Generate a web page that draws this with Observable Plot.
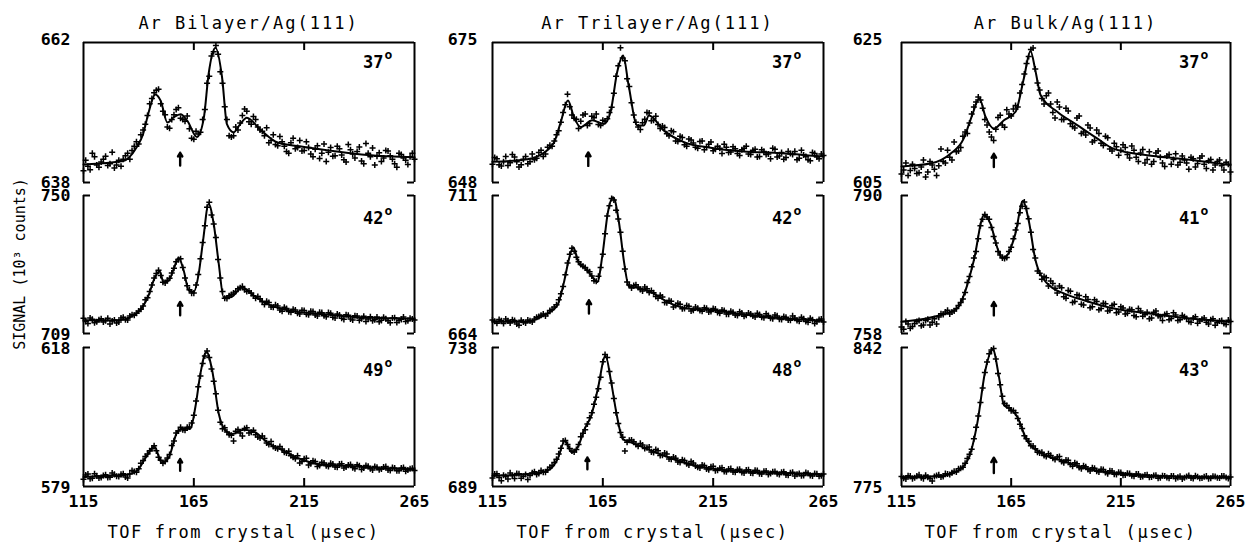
<!DOCTYPE html>
<html><head><meta charset="utf-8">
<script src="https://cdn.jsdelivr.net/npm/d3@7"></script>
<script src="https://cdn.jsdelivr.net/npm/@observablehq/plot@0.6"></script>
<style>
body{margin:0;background:#fff;}
#chart{position:relative;width:1249px;height:548px;overflow:hidden;font-family:"DejaVu Sans Mono",monospace;color:#000;background:#fff;}
.t{position:absolute;white-space:nowrap;line-height:1;}
.title{font-size:17px;letter-spacing:2px;transform:translateX(-50%);}
.xlab{font-size:17px;letter-spacing:1.6px;transform:translateX(-50%);}
.ylab{font-size:15px;transform:translate(-50%,-50%) rotate(-90deg);}
</style></head><body><div id="chart"></div>
<script>
// ---------- data ----------
const colTitles = ["Ar Bilayer/Ag(111)", "Ar Trilayer/Ag(111)", "Ar Bulk/Ag(111)"];
const xTicks = [115, 165, 215, 265];
const xLabel = "TOF from crystal (\u03bcsec)";
const yLabel = "SIGNAL (10\u00b3 counts)";

// TOF channels (µsec) of the plotted measurements: odd and even channels
const tofOdd = [115,117,119,121,123,125,127,129,131,133,135,137,139,141,143,145,147,149,151,153,155,157,159,161,163,165,167,169,171,173,175,177,179,181,183,185,187,189,191,193,195,197,199,201,203,205,207,209,211,213,215,217,219,221,223,225,227,229,231,233,235,237,239,241,243,245,247,249,251,253,255,257,259,261,263,265];
const tofEven = [116,118,120,122,124,126,128,130,132,134,136,138,140,142,144,146,148,150,152,154,156,158,160,162,164,166,168,170,172,174,176,178,180,182,184,186,188,190,192,194,196,198,200,202,204,206,208,210,212,214,216,218,220,222,224,226,228,230,232,234,236,238,240,242,244,246,248,250,252,254,256,258,260,262,264];

// y ranges (10^3 counts), per column, rows top->bottom
const rangesBi = [[638,662],[709,750],[579,618]];
const rangesTri = [[648,675],[664,711],[689,738]];
const rangesBulk = [[605,625],[758,790],[775,842]];

const anglesBi = ["37","42","49"];
const anglesTri = ["37","42","48"];
const anglesBulk = ["37","41","43"];

// arrow: [tof, y from, y to]
const arrowsBi = [[158.8,640.9,643.1],[158.8,714.4,718.4],[158.8,583.4,586.7]];
const arrowsTri = [[158.4,651.2,653.8],[158.7,670.8,675.3],[158.0,695.1,699.2]];
const arrowsBulk = [[157.1,607.2,609.1],[157.1,762.2,765.3],[157.1,781.5,788.9]];

// measured points, odd channels
const obsBi37 = [640.0,640.8,643.0,641.0,641.5,642.5,641.2,640.5,641.8,642.0,643.0,643.5,645.0,646.2,648.0,651.5,653.4,654.0,650.2,647.5,648.8,650.5,649.0,648.5,647.2,645.4,646.3,648.8,655.0,659.7,661.5,657.0,651.0,646.0,646.0,647.0,649.5,650.2,648.0,648.8,647.0,646.0,644.8,646.2,644.3,645.0,643.3,644.8,643.8,645.2,643.5,644.0,642.4,644.3,643.0,641.6,644.0,642.6,643.8,641.9,644.5,642.9,643.3,641.7,644.7,642.4,641.0,643.1,642.2,643.4,642.0,640.6,642.8,641.8,642.4,642.0];
const obsBi42 = [713.5,712.0,713.2,712.5,713.4,712.8,711.8,713.0,712.4,713.8,713.0,714.6,715.0,716.2,719.0,721.5,725.5,727.8,724.2,724.8,727.0,730.3,731.2,725.5,722.0,721.0,726.5,736.0,746.5,744.2,737.5,725.5,719.5,720.2,721.0,722.3,723.0,721.5,721.0,719.5,719.3,717.6,718.2,716.8,717.2,715.6,716.4,715.3,716.0,714.8,715.8,714.6,715.5,714.2,715.2,714.0,715.0,713.6,714.5,713.2,714.4,713.0,714.2,713.4,712.6,714.0,713.1,712.5,713.8,712.8,713.6,712.3,713.2,712.6,713.5,713.0];
const obsBi49 = [581.0,582.5,581.3,582.0,581.5,582.3,581.6,582.4,581.8,582.6,581.4,583.5,583.0,585.5,587.4,589.0,590.4,587.2,585.5,587.0,590.5,594.0,595.6,594.8,595.7,599.0,607.0,613.5,617.0,612.0,605.0,597.0,595.5,593.5,591.8,595.0,593.2,595.5,594.2,593.5,592.6,592.5,590.8,590.2,589.6,589.5,588.4,587.6,586.8,585.6,586.8,585.0,586.2,584.6,585.8,584.8,585.5,584.5,585.3,584.2,585.0,584.3,585.1,583.8,584.9,584.0,584.6,583.7,584.5,583.6,584.3,583.4,584.2,583.3,584.0,583.5];
const obsTri37 = [651.5,652.6,651.2,653.0,651.8,652.9,651.0,652.5,651.6,653.5,652.7,654.2,653.5,655.2,656.0,658.0,661.5,665.0,661.0,660.2,659.8,661.2,659.4,660.5,659.2,660.0,660.3,662.5,668.5,674.0,671.5,666.5,661.0,658.7,659.5,661.5,659.9,660.8,658.4,658.6,657.0,657.8,655.9,656.7,655.0,656.2,654.8,655.9,654.3,655.4,654.1,655.0,653.6,654.8,653.9,654.5,653.2,654.6,653.5,654.2,652.9,654.3,653.4,652.6,654.4,653.1,652.5,654.0,653.4,652.4,654.2,653.0,652.2,653.6,652.6,653.2];
const obsTri42 = [668.6,667.5,668.3,668.9,667.6,668.4,666.8,667.9,668.6,667.9,669.5,670.2,670.0,671.8,673.0,675.5,680.0,688.0,693.0,690.0,687.5,686.5,685.0,682.0,683.5,691.0,704.0,710.0,706.0,698.5,686.0,680.5,680.3,679.8,678.5,679.2,678.6,676.6,677.0,674.6,675.2,673.0,674.3,672.4,673.5,671.7,673.0,671.8,672.8,671.3,672.5,671.2,672.0,670.6,671.6,670.3,671.4,669.9,671.0,670.0,670.9,669.5,670.7,669.2,670.3,668.9,669.8,668.6,670.0,668.4,669.5,668.1,669.2,667.4,668.8,667.9];
const obsTri48 = [692.0,693.5,691.0,692.5,693.8,691.8,693.5,692.6,691.5,693.8,693.2,694.6,694.0,695.8,697.5,700.5,705.0,703.8,701.5,702.0,706.5,709.0,713.2,718.0,723.5,733.0,734.5,725.5,715.0,708.0,701.5,705.3,704.8,703.2,703.6,702.7,701.2,702.0,699.9,700.8,698.7,699.4,697.6,698.4,697.0,697.8,696.2,695.5,696.4,694.9,696.1,694.7,695.6,694.2,695.3,694.0,695.1,693.8,694.9,693.7,694.6,693.4,694.5,693.6,694.3,693.2,694.2,693.0,694.0,693.3,692.8,693.9,692.9,693.6,692.6,693.4];
const obsBulk37 = [606.2,607.8,606.7,607.0,606.4,608.2,606.5,607.5,606.0,609.8,607.8,608.6,610.8,609.5,611.6,612.0,614.8,616.5,616.8,614.0,612.2,611.0,614.3,613.2,615.4,614.5,616.0,617.8,620.5,623.0,624.2,619.2,617.0,617.4,616.2,614.2,615.8,614.0,615.2,613.0,614.2,612.0,611.8,612.8,611.0,612.0,610.3,611.4,609.5,610.1,609.6,610.0,608.5,609.6,608.0,609.7,608.3,607.6,609.2,608.6,607.3,609.0,608.3,607.5,608.8,607.8,608.6,607.2,608.5,607.6,608.1,606.8,608.0,607.4,607.9,606.5];
const obsBulk41 = [759.5,760.8,759.2,760.3,761.0,760.0,761.3,760.6,760.2,762.6,763.0,762.5,763.2,764.5,766.0,769.8,773.5,777.0,783.0,785.6,784.5,780.5,777.0,775.5,775.6,778.0,782.0,786.0,788.5,784.6,777.5,772.5,770.6,770.9,770.2,768.5,769.0,766.5,768.0,765.2,767.0,764.8,766.5,764.0,765.8,763.5,765.0,763.2,764.5,762.8,764.2,762.5,763.6,762.2,763.8,762.0,762.9,761.6,763.2,761.9,762.4,761.2,762.8,761.0,762.2,761.5,760.6,761.9,760.9,761.6,760.2,761.4,760.5,761.0,760.1,760.8];
const obsBulk43 = [779.8,778.6,780.0,779.2,780.6,778.8,779.5,777.6,780.3,779.6,781.2,780.8,782.4,783.5,784.3,788.5,793.0,803.5,815.5,830.0,839.0,841.5,829.5,818.5,814.0,811.5,810.5,805.0,799.5,796.8,794.5,791.5,791.5,789.5,790.0,788.0,789.5,786.5,787.6,784.8,786.0,783.6,784.5,782.5,783.8,782.0,783.2,781.2,782.5,780.8,781.8,780.5,781.2,780.0,781.0,779.8,780.6,779.6,780.4,779.2,780.1,779.0,780.0,779.4,778.6,779.8,779.1,780.2,779.0,779.7,778.8,779.9,779.2,780.0,779.3,779.6];

// measured points, even channels
const evenBi37 = [641.8,640.2,642.4,640.6,642.0,640.9,643.2,641.0,640.8,642.6,642.0,644.2,644.6,647.0,649.5,652.4,653.8,651.5,649.6,647.3,649.6,650.8,648.8,649.4,645.6,646.8,646.6,650.5,656.2,660.4,660.0,655.0,648.8,645.8,647.5,648.2,650.6,648.4,649.3,647.5,646.8,647.4,645.2,644.5,645.9,644.2,643.0,645.6,644.0,643.4,645.0,642.9,643.7,642.1,644.6,643.2,642.5,644.2,642.7,641.5,643.6,642.2,644.1,641.2,643.0,643.9,642.5,641.6,643.5,642.6,641.2,643.0,642.2,641.1,643.0];
const evenBi42 = [712.6,713.6,712.2,713.1,712.4,713.5,712.7,712.1,713.6,713.1,714.2,714.4,715.7,717.2,719.6,723.4,726.8,726.2,724.0,725.4,728.4,731.0,728.6,723.2,721.0,723.4,731.2,741.0,748.0,741.5,731.0,721.5,719.4,720.6,721.5,722.6,722.0,721.6,720.2,720.0,718.4,718.6,716.9,717.5,716.0,716.8,715.5,716.2,715.0,715.9,714.7,715.6,714.5,715.3,714.3,715.2,713.8,714.8,713.5,714.6,713.3,714.3,712.9,714.1,713.3,712.8,713.9,712.9,713.4,712.2,713.7,712.9,713.9,712.8,713.3];
const evenBi49 = [582.2,581.2,582.6,581.4,582.1,581.5,582.8,581.9,582.4,581.7,582.5,583.2,584.0,586.3,588.1,589.6,589.0,586.4,586.0,588.0,591.8,594.6,594.9,595.6,596.8,603.0,610.0,615.6,615.2,608.5,600.4,595.2,594.3,593.4,594.5,594.0,595.3,594.0,594.8,592.9,593.2,591.2,591.6,589.8,590.2,588.6,588.9,587.2,587.6,586.0,586.9,585.4,586.0,584.9,585.6,584.6,585.3,584.4,585.4,584.5,585.2,584.0,584.8,584.2,584.7,583.6,584.4,583.9,584.6,583.5,584.2,583.4,584.3,583.6,584.1];
const evenTri37 = [652.8,651.4,652.0,651.3,653.4,652.0,651.4,653.0,652.0,652.4,653.8,653.0,654.8,655.0,657.2,659.6,663.0,662.6,660.4,658.4,661.0,659.0,660.8,661.2,659.0,659.8,661.5,665.2,670.5,672.0,668.0,663.4,659.6,658.2,660.2,661.4,660.0,659.2,658.9,657.4,658.0,656.0,656.9,655.3,656.4,655.6,654.6,656.0,654.8,655.8,654.4,654.6,655.4,653.8,654.9,653.6,654.3,655.0,653.4,654.4,653.0,654.0,653.5,654.6,652.9,653.8,652.8,653.6,654.0,652.7,653.3,652.4,653.8,652.9,653.5];
const evenTri42 = [668.2,668.8,667.4,668.3,668.7,667.2,668.5,667.6,668.3,668.9,669.8,670.6,670.8,672.2,673.8,677.5,684.0,691.0,692.0,688.4,686.9,685.5,683.6,681.8,686.5,698.0,707.5,709.5,703.0,692.0,681.5,679.5,680.6,679.0,679.8,678.0,677.9,676.0,676.4,674.5,675.0,673.5,674.0,672.5,673.3,671.9,672.6,671.6,672.6,671.5,672.3,670.9,671.8,670.6,671.2,670.1,671.0,670.2,670.6,669.6,670.5,669.4,670.1,669.0,670.0,668.8,669.5,668.5,669.3,668.2,669.0,667.8,668.7,668.0,668.9];
const evenTri48 = [693.4,692.2,693.0,691.6,692.8,693.6,691.9,693.2,692.9,694.2,693.6,694.0,695.0,696.4,698.6,702.5,705.2,702.4,701.2,703.8,707.8,711.0,715.0,720.5,727.5,735.5,729.5,720.0,711.2,706.4,704.6,705.4,703.8,704.2,702.4,702.9,701.0,701.6,700.0,700.5,698.6,699.0,697.5,698.2,696.6,697.3,695.8,696.6,695.2,696.0,694.6,695.4,694.3,695.2,694.1,695.0,693.9,694.8,693.8,694.7,693.5,694.4,693.2,694.2,693.5,694.0,693.1,693.8,692.7,693.6,692.9,693.7,692.7,693.5,692.8];
const evenBulk37 = [606.8,606.0,607.6,606.3,607.2,605.8,608.0,606.9,607.4,608.0,609.6,608.2,609.4,610.0,612.2,613.5,615.8,617.2,615.6,613.2,611.5,612.6,614.6,612.9,614.8,615.5,615.8,619.0,622.0,624.0,621.2,618.2,616.2,617.8,615.0,616.5,614.0,615.6,613.4,612.8,614.5,612.2,613.2,610.8,612.5,610.6,611.6,609.8,610.6,608.9,610.4,609.0,610.2,608.6,609.2,607.8,609.4,608.0,609.5,607.8,608.8,607.6,609.1,607.9,608.2,606.9,608.4,607.7,608.8,607.0,608.3,607.5,608.2,606.8,607.6];
const evenBulk41 = [759.0,760.2,759.6,760.8,759.8,761.0,760.0,761.4,761.8,762.4,763.4,763.0,763.8,765.2,767.5,771.2,775.5,780.0,784.5,785.0,782.6,779.0,776.2,775.4,777.0,780.0,783.5,787.5,787.0,781.5,775.5,772.0,771.2,769.0,769.6,767.4,768.6,766.2,767.8,765.4,766.8,764.6,765.9,764.2,765.4,763.8,764.9,763.4,764.8,763.0,763.9,762.7,763.5,761.9,763.2,762.4,761.4,762.9,762.1,761.0,762.6,761.5,762.3,761.2,761.9,760.8,761.6,760.4,761.3,760.6,761.2,759.9,760.9,760.3,761.1];
const evenBulk43 = [779.0,780.2,778.8,780.0,779.2,780.4,778.9,779.8,780.6,779.8,781.0,781.6,782.0,783.8,786.2,790.5,798.0,809.0,822.5,835.0,840.8,836.5,824.0,815.0,813.0,811.6,807.8,803.0,798.0,794.6,793.2,791.2,790.0,790.8,788.6,789.2,787.0,787.8,785.6,786.4,784.2,785.0,783.2,784.0,782.4,783.3,781.8,782.6,780.9,781.9,780.4,781.4,780.2,781.0,779.6,780.5,779.5,780.3,779.0,780.2,779.3,780.1,778.8,779.9,779.2,780.3,778.9,779.7,779.1,780.0,779.0,779.8,779.1,780.0,778.9];

// fitted curves (tof, signal)
const fitBi37X = [115,133,139,142,144.5,147.5,150,153,156,159,162,166.4,169.5,171.7,174.8,177.8,180,183,186,189,195,202.7,213,228,243.6,265];
const fitBi37Y = [641.1,641.7,644,646.3,650,653.1,652,648.3,649.2,649.7,648.6,645.8,649,656.6,661.1,656,648,646.6,648,649.1,647.1,644.9,644.2,643.4,642.7,642.3];
const fitBi42X = [115,130,137.7,142.2,144.5,146.8,149.5,151.3,153.6,155.9,158.1,160.4,162.7,164.9,167.2,169.2,171.7,174,176.3,178.5,181.6,186.9,192.1,198.2,208.8,222.4,237.5,265];
const fitBi42Y = [712.9,712.9,714.4,717.3,720.3,724.8,727.5,724.2,724.7,728.2,731.5,727.7,721.8,721.3,726.7,736.7,747.5,741.6,729.7,719.8,719.8,722.7,720.3,717.8,715.8,714.8,713.9,713.4];
const fitBi49X = [115,134.7,139.2,143.7,147.1,150.5,153.6,157.4,159.6,163.4,165.7,168,170.7,173.3,176.3,179.3,182.3,187.6,192.9,198.2,205.8,213.3,222.4,234.5,251.1,265];
const fitBi49Y = [581.7,582.3,583.4,587.6,590.2,585.7,587.1,594.2,595.2,595.2,601.3,610.7,616.8,611.6,599.4,594.7,593.7,594.9,594.2,591.4,589.0,586.7,585.2,584.8,584.1,583.8];
const fitTri37X = [115,130.8,138.4,142.9,145.9,149.2,151.9,154.9,160.2,165.5,168.5,171.5,174.2,176.7,180.6,183.6,185.9,192.7,201.7,213.8,228.8,243.9,265];
const fitTri37Y = [652,652.5,653.8,655.7,659.6,663.8,660.6,658.7,660,659.3,661.6,669.3,672.5,666.7,659,659,660.9,658,655.8,654.7,654,653.7,653];
const fitTri42X = [115,130.8,138.4,144.4,147.4,149.7,151.6,154.2,157.2,160.2,162.5,164.8,167.3,169.7,172.3,174.6,176.9,180.6,186.7,194.2,203.3,213.8,228.8,243.9,265];
const fitTri42Y = [668,668,670.3,673.6,681.5,689.5,693.4,687.8,686.1,683.3,681.5,690.6,705.3,710.4,701.9,688.4,679.9,679.6,678.2,674.8,672.5,672,670.5,669.4,668.3];
const fitTri48X = [115,130.9,140,144.5,147.8,150.9,153.6,156.7,159.7,162.7,166.2,168.8,171.1,174.1,177.9,187,199.1,211.2,223.3,238.5,265];
const fitTri48Y = [692.8,693.4,694.6,698.7,705.1,701,702.8,709.2,713.9,723.3,735.1,725.7,715.1,705.7,704.5,701.6,698.1,695.7,694.6,694,693.2];
const fitBulk37X = [115,128.2,137.3,143.4,147.2,150.5,153.3,157.1,161.7,167,170.8,173.8,176.1,178.4,186,195.1,204.2,211.8,227,242.2,265];
const fitBulk37Y = [607.3,607.7,609.1,611.3,614.6,617,614.4,612.7,613.9,615.1,619.9,623.8,620.9,617.5,615.1,613.2,611.3,609.8,608.9,608.4,607.5];
const fitBulk41X = [115,128.2,140.4,144.2,148,152.6,155.6,158.6,160.8,163.1,166.9,170.4,173,176.1,181.4,189,198.1,211.8,227,242.2,265];
const fitBulk41Y = [760.7,761.7,763.8,768,775,785.4,783.4,778,775.6,776.1,781.1,788.8,784.2,775,769.6,767.3,765.7,763.8,762.7,761.7,760.7];
const fitBulk43X = [115,131.3,140.4,145.7,149.5,153.3,156.6,159.4,161.7,165.5,167.8,172.3,179.9,189,198.1,211.8,234.6,265];
const fitBulk43Y = [779.4,779.9,782.3,788.9,805.2,831.4,841.2,828.1,814.2,811.7,808.5,797,790.5,787.2,784,781.5,779.9,779.4];

// ---------- layout ----------
const colLeft = [83, 492, 901];
const colWidth = [331, 331, 329];
const rowTop = [42, 195, 347];
const rowHeight = [140, 138, 139];
const labelGap = [13, 15, 19];
const topDy = [-3, 0, 1];
const botDy = [0, 1, 1];
const angDy = [25, 28, 28];

const panels = [
  {col:0,row:0,range:rangesBi[0],obs:obsBi37,even:evenBi37,fx:fitBi37X,fy:fitBi37Y,angle:anglesBi[0],arrow:arrowsBi[0]},
  {col:0,row:1,range:rangesBi[1],obs:obsBi42,even:evenBi42,fx:fitBi42X,fy:fitBi42Y,angle:anglesBi[1],arrow:arrowsBi[1]},
  {col:0,row:2,range:rangesBi[2],obs:obsBi49,even:evenBi49,fx:fitBi49X,fy:fitBi49Y,angle:anglesBi[2],arrow:arrowsBi[2]},
  {col:1,row:0,range:rangesTri[0],obs:obsTri37,even:evenTri37,fx:fitTri37X,fy:fitTri37Y,angle:anglesTri[0],arrow:arrowsTri[0]},
  {col:1,row:1,range:rangesTri[1],obs:obsTri42,even:evenTri42,fx:fitTri42X,fy:fitTri42Y,angle:anglesTri[1],arrow:arrowsTri[1]},
  {col:1,row:2,range:rangesTri[2],obs:obsTri48,even:evenTri48,fx:fitTri48X,fy:fitTri48Y,angle:anglesTri[2],arrow:arrowsTri[2]},
  {col:2,row:0,range:rangesBulk[0],obs:obsBulk37,even:evenBulk37,fx:fitBulk37X,fy:fitBulk37Y,angle:anglesBulk[0],arrow:arrowsBulk[0]},
  {col:2,row:1,range:rangesBulk[1],obs:obsBulk41,even:evenBulk41,fx:fitBulk41X,fy:fitBulk41Y,angle:anglesBulk[1],arrow:arrowsBulk[1]},
  {col:2,row:2,range:rangesBulk[2],obs:obsBulk43,even:evenBulk43,fx:fitBulk43X,fy:fitBulk43Y,angle:anglesBulk[2],arrow:arrowsBulk[2]}
];

const chart = document.getElementById("chart");

function addText(cls, txt, left, top) {
  const d = document.createElement("div");
  d.className = "t " + cls;
  d.textContent = txt;
  d.style.left = left + "px";
  d.style.top = top + "px";
  chart.appendChild(d);
}

for (const p of panels) {
  const c = p.col, r = p.row;
  const W = colWidth[c], H = rowHeight[r];
  const ML = 75, MR = 12, MT = 16, MB = r === 2 ? 36 : 12;
  const [lo, hi] = p.range;
  const obs = tofOdd.map((x, i) => ({x, y: p.obs[i]})).concat(tofEven.map((x, i) => ({x, y: p.even[i]})));
  const fit = p.fx.map((x, i) => ({x, y: p.fy[i]}));
  const sw = 2;
  const cl = 7; // corner tick length
  const marks = [];
  marks.push(Plot.ruleX([115, 265], {strokeWidth: sw}));
  if (r === 0) marks.push(Plot.ruleY([hi], {strokeWidth: sw}));
  else marks.push(Plot.ruleY([hi], {insetRight: W - cl, strokeWidth: sw}), Plot.ruleY([hi], {insetLeft: W - cl, strokeWidth: sw}));
  if (r === 2) marks.push(Plot.ruleY([lo], {strokeWidth: sw}));
  else marks.push(Plot.ruleY([lo], {insetRight: W - cl, strokeWidth: sw}), Plot.ruleY([lo], {insetLeft: W - cl, strokeWidth: sw}));
  if (r === 0) marks.push(Plot.ruleX([165, 215], {insetBottom: H - 8, strokeWidth: sw}));
  if (r === 2) marks.push(Plot.ruleX([165, 215], {insetTop: H - 8, strokeWidth: sw}));
  marks.push(Plot.line(fit, {x: "x", y: "y", curve: "monotone-x", strokeWidth: 2, stroke: "black"}));
  marks.push(Plot.dot(obs, {x: "x", y: "y", symbol: "plus", r: 2.1, stroke: "black", strokeWidth: 1.5}));
  marks.push(Plot.arrow([p.arrow], {x1: d => d[0], x2: d => d[0], y1: d => d[1], y2: d => d[2], headLength: 5, strokeWidth: 2.4, stroke: "black"}));
  marks.push(Plot.text([hi], {y: d => d, text: d => String(d), frameAnchor: "left", textAnchor: "end", dx: -labelGap[c], dy: topDy[r], fontSize: 16.5, fontWeight: "bold"}));
  marks.push(Plot.text([lo], {y: d => d, text: d => String(d), frameAnchor: "left", textAnchor: "end", dx: -labelGap[c], dy: botDy[r], fontSize: 16.5, fontWeight: "bold"}));
  marks.push(Plot.text([p.angle], {text: d => d, frameAnchor: "top-right", textAnchor: "end", lineAnchor: "bottom", dx: -31, dy: angDy[r], fontSize: 17, fontWeight: "bold"}));
  marks.push(Plot.text(["o"], {text: d => d, frameAnchor: "top-right", textAnchor: "start", lineAnchor: "bottom", dx: -30, dy: angDy[r] - 9, fontSize: 13, fontWeight: "bold"}));

  const svg = Plot.plot({
    width: ML + W + MR, height: MT + H + MB,
    marginLeft: ML, marginRight: MR, marginTop: MT, marginBottom: MB,
    style: {background: "transparent", overflow: "visible", fontFamily: "DejaVu Sans Mono, monospace", fontSize: "16.5px", fontWeight: "bold", color: "black"},
    x: r === 2 ? {domain: [115, 265], ticks: xTicks, tickSize: 0, tickPadding: 9, label: null, tickFormat: d => String(d)} : {domain: [115, 265], axis: null},
    y: {domain: [lo, hi], axis: null},
    marks
  });
  svg.style.position = "absolute";
  svg.style.left = (colLeft[c] - ML) + "px";
  svg.style.top = (rowTop[r] - MT) + "px";
  svg.style.maxWidth = "none";
  chart.appendChild(svg);
}

for (let c = 0; c < 3; c++) {
  const cx = colLeft[c] + colWidth[c] / 2;
  addText("title", colTitles[c], cx, 15);
  addText("xlab", xLabel, cx - 5, 524);
}
addText("ylab", yLabel, 20, 264);
</script></body></html>
